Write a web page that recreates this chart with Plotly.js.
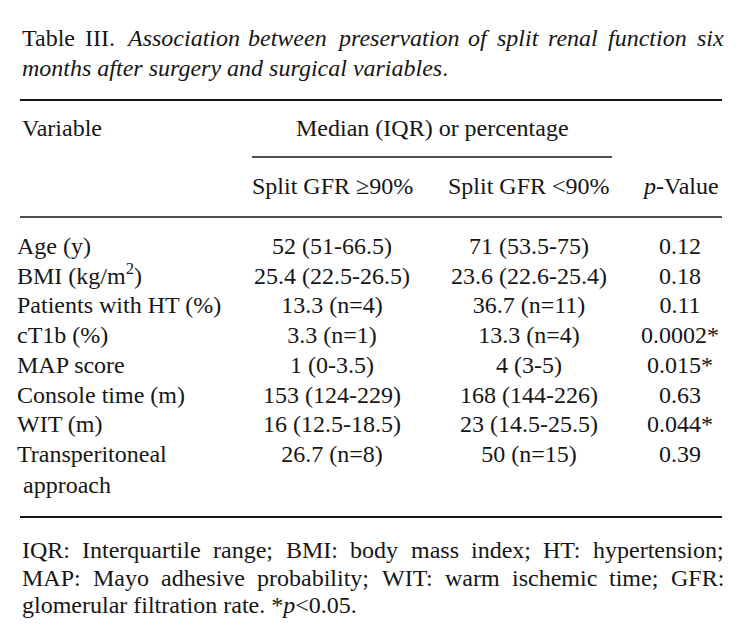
<!DOCTYPE html>
<html>
<head>
<meta charset="utf-8">
<script src="https://cdn.plot.ly/plotly-3.0.1.min.js"></script>
<style>
  html, body { margin: 0; padding: 0; background: #fff; }
  #table { width: 741px; height: 641px; }
</style>
</head>
<body>
<div id="table"></div>
<script>
// Table III data
const variables = [
    'Age (y)',
    'BMI (kg/m<sup>2</sup>)',
    'Patients with HT (%)',
    'cT1b (%)',
    'MAP score',
    'Console time (m)',
    'WIT (m)',
    'Transperitoneal<br> approach'
];
const gfrHigh = ['52 (51-66.5)', '25.4 (22.5-26.5)', '13.3 (n=4)', '3.3 (n=1)', '1 (0-3.5)', '153 (124-229)', '16 (12.5-18.5)', '26.7 (n=8)'];
const gfrLow = ['71 (53.5-75)', '23.6 (22.6-25.4)', '36.7 (n=11)', '13.3 (n=4)', '4 (3-5)', '168 (144-226)', '23 (14.5-25.5)', '50 (n=15)'];
const pValues = ['0.12', '0.18', '0.11', '0.0002*', '0.015*', '0.63', '0.044*', '0.39'];

const titleLines = [
    'Table III. <i>Association between preservation of split renal function six</i>',
    '<i>months after surgery and surgical variables</i>.'
];
const headerTop = ['Variable', 'Median (IQR) or percentage'];
const headerSub = ['Split GFR \u226590%', 'Split GFR &lt;90%', '<i>p</i>-Value'];
const footLines = [
    'IQR: Interquartile range; BMI: body mass index; HT: hypertension;',
    'MAP: Mayo adhesive probability; WIT: warm ischemic time; GFR:',
    'glomerular filtration rate. *<i>p</i>&lt;0.05.'
];

// layout constants (pixel space)
const W = 741, H = 641;
const LEFT = 20, RIGHT = 722;
const FONT = 'Liberation Serif';
const INK = '#161616';
const FS = 24;
const colX = [LEFT - 3, 332, 529, 680];
const rowTop = 236;
const rowStep = 29.7;
const rowY = variables.map((v, i) => rowTop + i * rowStep);

const textTrace = (x, text, pos) => ({
    x: text.map(() => x),
    y: rowY,
    text: text,
    type: 'scatter',
    mode: 'text',
    textposition: pos,
    textfont: { family: FONT, size: FS, color: INK },
    hoverinfo: 'skip',
    showlegend: false
});

const traces = [
    textTrace(colX[0], variables, 'bottom right'),
    textTrace(colX[1], gfrHigh, 'bottom center'),
    textTrace(colX[2], gfrLow, 'bottom center'),
    textTrace(colX[3], pValues, 'bottom center')
];

const ann = (x, y, text, anchor) => ({
    x: x, y: y, xref: 'x', yref: 'y',
    text: text, showarrow: false,
    xanchor: anchor, yanchor: 'middle',
    font: { family: FONT, size: FS, color: INK }
});

// spread the words of a line over the full text width (justified text)
const ctx = document.createElement('canvas').getContext('2d');
function justify(line, y) {
    const words = [];
    let italic = false;
    line.split(' ').forEach(w => {
        const opens = w.includes('<i>');
        const plain = w.replace(/<\/?i>/g, '').replace('&lt;', '<');
        const it = italic || opens;
        if (w.includes('</i>')) italic = false;
        else if (opens) italic = true;
        words.push({ text: w, plain: plain, italic: it });
    });
    words.forEach(w => {
        ctx.font = (w.italic ? 'italic ' : '') + FS + 'px "' + FONT + '"';
        w.width = ctx.measureText(w.plain).width;
    });
    const total = words.reduce((s, w) => s + w.width, 0);
    const gap = (RIGHT - LEFT - total) / (words.length - 1);
    let x = LEFT;
    let open = false;
    return words.map(w => {
        let t = w.text;
        if (open && !t.startsWith('<i>')) t = '<i>' + t;
        if (t.includes('<i>') && !t.includes('</i>')) { t = t + '</i>'; open = true; }
        if (w.text.includes('</i>')) open = false;
        const a = ann(x, y, t, 'left');
        x += w.width + gap;
        return a;
    });
}

const annotations = [
    ...justify(titleLines[0], 38),
    ann(LEFT, 68, titleLines[1], 'left'),
    ann(LEFT, 128, headerTop[0], 'left'),
    ann(432, 128, headerTop[1], 'center'),
    ann(colX[1], 186, headerSub[0], 'center'),
    ann(colX[2], 186, headerSub[1], 'center'),
    ann(colX[3], 186, headerSub[2], 'center'),
    ...justify(footLines[0], 550),
    ...justify(footLines[1], 578),
    ann(LEFT, 605, footLines[2], 'left')
];

const rule = (x0, x1, y, w) => ({
    type: 'line', xref: 'x', yref: 'y',
    x0: x0, x1: x1, y0: y, y1: y,
    line: { color: INK, width: w }
});

const layout = {
    width: W,
    height: H,
    margin: { l: 0, r: 0, t: 0, b: 0 },
    paper_bgcolor: '#fff',
    plot_bgcolor: '#fff',
    xaxis: { range: [0, W], visible: false, fixedrange: true },
    yaxis: { range: [H, 0], visible: false, fixedrange: true },
    shapes: [
        rule(LEFT, RIGHT, 100, 2),
        rule(252, 612, 157, 1.5),
        rule(LEFT, RIGHT, 217, 1.5),
        rule(LEFT, RIGHT, 517, 2)
    ],
    annotations: annotations
};

Plotly.newPlot('table', traces, layout, { staticPlot: true });
</script>
</body>
</html>
